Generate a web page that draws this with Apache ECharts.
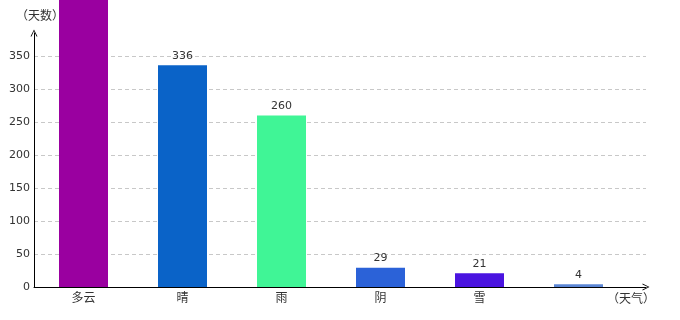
<!DOCTYPE html>
<html>
<head>
<meta charset="utf-8">
<script src="https://cdn.jsdelivr.net/npm/echarts@6/dist/echarts.min.js"></script>
<style>html,body{margin:0;padding:0;background:#fff;}#c{width:680px;height:320px;}</style>
</head>
<body>
<div id="c"></div>
<script>
var categories = ['多云', '晴', '雨', '阴', '雪', ''];
var values = [450, 336, 260, 29, 21, 4];
var barColors = ['#9a00a0', '#0a63c8', '#40f596', '#2b62d8', '#4a14e0', '#5b86d4'];
var yTicks = [0, 50, 100, 150, 200, 250, 300, 350];
var yName = '（天数）';
var xName = '（天气）';

var font = '"Noto Sans CJK SC", "DejaVu Sans", sans-serif';
var nameFont = '"Noto Sans CJK SC", sans-serif';
var chevron = 'path://M0,10 L5,0 L10,10 L8.6,10 L5,2.2 L1.4,10 Z';
var chart = echarts.init(document.getElementById('c'));
chart.setOption({
  animation: false,
  backgroundColor: '#fff',
  grid: [
    {left: 34, right: 34, top: 33, bottom: 33},
    {left: 34, width: 594, top: 33, bottom: 33}
  ],
  xAxis: [
    {
      gridIndex: 0, type: 'category', data: categories,
      axisLine: {show: true, lineStyle: {color: '#000', width: 1}, symbol: ['none', chevron], symbolSize: [9, 7]},
      axisTick: {show: false}, axisLabel: {show: false}, splitLine: {show: false},
      name: xName, nameLocation: 'end', nameGap: 9,
      nameTextStyle: {color: '#333', fontSize: 12, fontFamily: nameFont, align: 'right', verticalAlign: 'top', padding: [5, 0, 0, 0]}
    },
    {
      gridIndex: 1, type: 'category', data: categories,
      axisLine: {show: false}, axisTick: {show: false},
      axisLabel: {color: '#333', fontSize: 12, fontFamily: font, margin: 4}
    }
  ],
  yAxis: [
    {
      gridIndex: 0, type: 'value', min: 0, max: 385, interval: 50,
      axisLine: {show: true, lineStyle: {color: '#000', width: 1}, symbol: ['none', chevron], symbolSize: [9, 7]},
      axisTick: {show: false},
      axisLabel: {color: '#333', fontSize: 11, fontFamily: '"DejaVu Sans", sans-serif', margin: 4, showMaxLabel: false,
        formatter: function (v) { return yTicks.indexOf(v) >= 0 ? String(v) : ''; }},
      splitLine: {show: true, showMaxLine: false, lineStyle: {color: '#c8c8c8', type: [4, 3], width: 1}},
      name: yName, nameLocation: 'end', nameGap: 12,
      nameTextStyle: {color: '#333', fontSize: 12, fontFamily: nameFont, align: 'center', padding: [0, 0, 0, 12]}
    },
    {
      gridIndex: 1, type: 'value', min: 0, max: 385, interval: 50, show: false
    }
  ],
  series: [{
    type: 'bar',
    xAxisIndex: 1, yAxisIndex: 1,
    data: values.map(function (v, i) { return {value: v, itemStyle: {color: barColors[i]}}; }),
    barWidth: 49,
    clip: false,
    label: {show: true, position: 'top', distance: 4, color: '#333', fontSize: 11, fontFamily: '"DejaVu Sans", sans-serif'},
    z: 5
  }]
});
</script>
</body>
</html>
